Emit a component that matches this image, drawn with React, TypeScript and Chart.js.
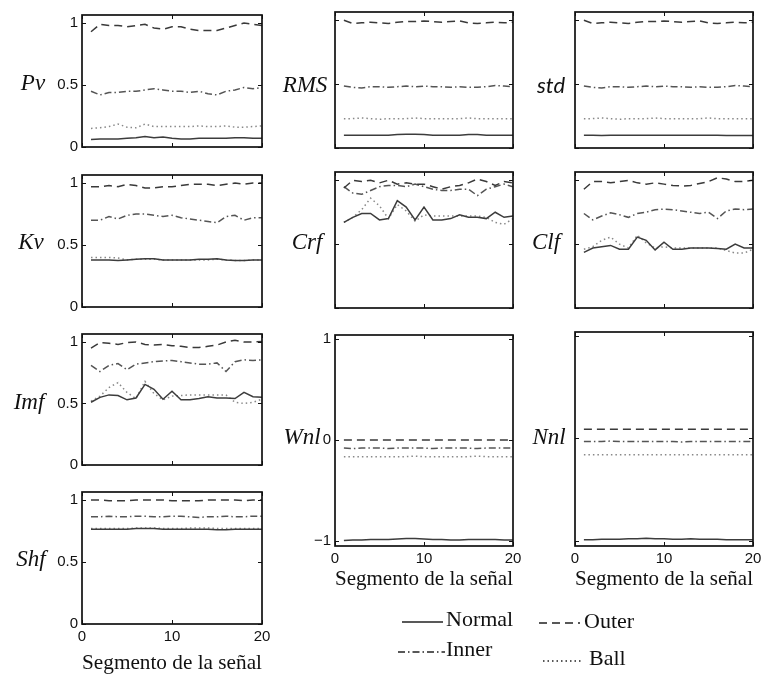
import React, { useEffect, useRef } from 'react';
import { Chart, registerables } from 'chart.js';

Chart.register(...registerables);

// ---------- data ----------
const segments = [1, 2, 3, 4, 5, 6, 7, 8, 9, 10, 11, 12, 13, 14, 15, 16, 17, 18, 19, 20];
const seriesNames = ['Normal', 'Outer', 'Inner', 'Ball'];
const xTickValues = [0, 10, 20];
const unitTickValues = [0, 0.5, 1];
const signedTickValues = [-1, 0, 1];
const xAxisTitle = 'Segmento de la señal';

const pvNormal = [0.06, 0.065, 0.065, 0.065, 0.07, 0.075, 0.085, 0.075, 0.08, 0.07, 0.065, 0.065, 0.07, 0.07, 0.07, 0.07, 0.075, 0.075, 0.07, 0.07];
const pvOuter = [0.93, 0.99, 0.98, 0.98, 0.97, 0.98, 0.99, 0.96, 0.95, 0.97, 0.97, 0.95, 0.94, 0.94, 0.94, 0.96, 0.98, 1.0, 0.99, 0.98];
const pvInner = [0.45, 0.42, 0.44, 0.44, 0.45, 0.45, 0.46, 0.47, 0.46, 0.45, 0.45, 0.44, 0.45, 0.43, 0.42, 0.45, 0.46, 0.48, 0.47, 0.48];
const pvBall = [0.15, 0.155, 0.165, 0.185, 0.16, 0.155, 0.185, 0.165, 0.165, 0.165, 0.165, 0.165, 0.17, 0.165, 0.165, 0.17, 0.16, 0.16, 0.165, 0.17];

const rmsNormal = [0.1, 0.1, 0.1, 0.1, 0.1, 0.1, 0.105, 0.107, 0.107, 0.105, 0.1, 0.1, 0.1, 0.1, 0.105, 0.105, 0.1, 0.1, 0.1, 0.1];
const rmsOuter = [1.0, 0.975, 0.98, 0.985, 0.98, 0.975, 0.985, 0.99, 0.99, 0.995, 0.99, 0.985, 0.99, 0.995, 0.98, 0.975, 0.98, 0.985, 0.98, 0.985];
const rmsInner = [0.485, 0.475, 0.47, 0.48, 0.48, 0.475, 0.48, 0.485, 0.48, 0.485, 0.48, 0.48, 0.475, 0.48, 0.475, 0.475, 0.48, 0.49, 0.485, 0.48];
const rmsBall = [0.23, 0.23, 0.235, 0.23, 0.225, 0.23, 0.23, 0.23, 0.235, 0.23, 0.23, 0.23, 0.23, 0.23, 0.235, 0.23, 0.23, 0.23, 0.23, 0.23];

const stdNormal = [0.1, 0.1, 0.098, 0.1, 0.1, 0.1, 0.1, 0.1, 0.1, 0.1, 0.1, 0.1, 0.1, 0.1, 0.1, 0.1, 0.098, 0.098, 0.098, 0.098];
const stdOuter = [1.0, 0.975, 0.98, 0.985, 0.98, 0.975, 0.985, 0.99, 0.99, 0.995, 0.99, 0.985, 0.99, 0.995, 0.98, 0.975, 0.98, 0.985, 0.98, 0.985];
const stdInner = [0.485, 0.475, 0.47, 0.48, 0.48, 0.475, 0.48, 0.485, 0.48, 0.485, 0.48, 0.48, 0.475, 0.48, 0.475, 0.475, 0.48, 0.49, 0.485, 0.48];
const stdBall = [0.23, 0.23, 0.235, 0.23, 0.225, 0.23, 0.23, 0.23, 0.235, 0.23, 0.23, 0.23, 0.23, 0.23, 0.235, 0.23, 0.23, 0.23, 0.23, 0.23];

const kvNormal = [0.38, 0.38, 0.38, 0.375, 0.38, 0.385, 0.39, 0.39, 0.38, 0.38, 0.38, 0.38, 0.385, 0.385, 0.39, 0.38, 0.375, 0.375, 0.38, 0.38];
const kvOuter = [0.97, 0.97, 0.98, 0.97, 0.99, 0.98, 0.96, 0.96, 0.97, 0.97, 0.98, 0.99, 0.99, 0.99, 0.98, 0.99, 1.0, 0.99, 1.0, 1.0];
const kvInner = [0.7, 0.7, 0.73, 0.71, 0.74, 0.75, 0.75, 0.74, 0.73, 0.74, 0.72, 0.71, 0.7, 0.69, 0.68, 0.73, 0.74, 0.7, 0.72, 0.72];
const kvBall = [0.4, 0.4, 0.4, 0.395, 0.38, 0.385, 0.385, 0.385, 0.38, 0.38, 0.38, 0.38, 0.38, 0.38, 0.385, 0.38, 0.375, 0.375, 0.38, 0.38];

const crfNormal = [0.67, 0.71, 0.74, 0.74, 0.69, 0.7, 0.84, 0.79, 0.69, 0.79, 0.69, 0.69, 0.7, 0.73, 0.71, 0.71, 0.7, 0.75, 0.71, 0.72];
const crfOuter = [0.94, 1.0, 0.99, 1.0, 0.98, 1.0, 0.97, 0.98, 0.97, 0.97, 0.95, 0.93, 0.95, 0.96, 0.98, 1.01, 0.99, 0.96, 0.99, 0.98];
const crfInner = [0.95, 0.9, 0.89, 0.92, 0.95, 0.96, 0.96, 0.95, 0.97, 0.95, 0.93, 0.92, 0.92, 0.93, 0.93, 0.88, 0.93, 0.95, 0.97, 0.95];
const crfBall = [0.67, 0.71, 0.77, 0.86, 0.8, 0.7, 0.81, 0.76, 0.68, 0.73, 0.72, 0.72, 0.72, 0.72, 0.72, 0.72, 0.71, 0.67, 0.655, 0.7];

const clfNormal = [0.435, 0.47, 0.48, 0.49, 0.46, 0.46, 0.555, 0.53, 0.455, 0.515, 0.46, 0.46, 0.47, 0.47, 0.47, 0.465, 0.46, 0.5, 0.47, 0.47];
const clfOuter = [0.93, 0.99, 0.99, 0.98, 0.99, 1.0, 0.98, 0.97, 0.98, 0.97, 0.96, 0.955, 0.96, 0.975, 0.99, 1.02, 1.01, 0.99, 0.99, 1.0];
const clfInner = [0.74, 0.69, 0.72, 0.745, 0.73, 0.71, 0.74, 0.75, 0.77, 0.775, 0.77, 0.76, 0.75, 0.74, 0.75, 0.7, 0.76, 0.775, 0.77, 0.775];
const clfBall = [0.46, 0.48, 0.53, 0.555, 0.5, 0.47, 0.57, 0.51, 0.47, 0.48, 0.47, 0.47, 0.47, 0.47, 0.47, 0.47, 0.45, 0.43, 0.43, 0.46];

const imfNormal = [0.51, 0.55, 0.57, 0.565, 0.53, 0.545, 0.655, 0.615, 0.535, 0.6, 0.53, 0.53, 0.54, 0.555, 0.545, 0.545, 0.54, 0.59, 0.555, 0.55];
const imfOuter = [0.95, 0.995, 0.99, 0.98, 0.995, 1.0, 0.98, 0.975, 0.98, 0.97, 0.965, 0.955, 0.955, 0.965, 0.975, 1.0, 1.015, 1.0, 1.0, 1.005];
const imfInner = [0.81, 0.76, 0.81, 0.825, 0.775, 0.82, 0.83, 0.84, 0.845, 0.85, 0.84, 0.83, 0.82, 0.82, 0.83, 0.76, 0.84, 0.855, 0.85, 0.855];
const imfBall = [0.52, 0.56, 0.63, 0.67, 0.59, 0.54, 0.68, 0.58, 0.53, 0.56, 0.565, 0.57, 0.57, 0.57, 0.57, 0.57, 0.51, 0.5, 0.51, 0.535];

const shfNormal = [0.765, 0.765, 0.765, 0.765, 0.765, 0.77, 0.77, 0.77, 0.765, 0.765, 0.765, 0.765, 0.765, 0.765, 0.76, 0.76, 0.765, 0.765, 0.765, 0.765];
const shfOuter = [1.0, 1.0, 0.995, 0.995, 0.995, 1.0, 1.0, 1.0, 1.0, 0.995, 0.995, 0.995, 0.995, 1.0, 1.0, 1.0, 1.0, 0.995, 1.0, 1.0];
const shfInner = [0.865, 0.865, 0.87, 0.865, 0.865, 0.87, 0.87, 0.865, 0.865, 0.87, 0.87, 0.865, 0.86, 0.865, 0.865, 0.87, 0.865, 0.865, 0.87, 0.87];
const shfBall = [0.77, 0.77, 0.77, 0.77, 0.77, 0.775, 0.775, 0.775, 0.77, 0.77, 0.77, 0.775, 0.775, 0.775, 0.77, 0.77, 0.77, 0.77, 0.77, 0.77];

const wnlNormal = [-0.995, -0.99, -0.99, -0.985, -0.985, -0.985, -0.98, -0.975, -0.975, -0.98, -0.985, -0.985, -0.99, -0.99, -0.985, -0.985, -0.985, -0.985, -0.99, -0.99];
const wnlOuter = [0.0, 0.0, 0.0, 0.0, 0.0, 0.0, 0.0, 0.0, 0.0, 0.0, 0.0, 0.0, 0.0, 0.0, 0.0, 0.0, 0.0, 0.0, 0.0, 0.0];
const wnlInner = [-0.08, -0.085, -0.08, -0.08, -0.08, -0.085, -0.08, -0.08, -0.08, -0.08, -0.085, -0.08, -0.08, -0.08, -0.08, -0.085, -0.08, -0.08, -0.08, -0.08];
const wnlBall = [-0.165, -0.165, -0.165, -0.165, -0.165, -0.165, -0.165, -0.165, -0.16, -0.165, -0.165, -0.165, -0.165, -0.165, -0.165, -0.16, -0.165, -0.165, -0.165, -0.165];

const nnlNormal = [-0.99, -0.99, -0.985, -0.985, -0.985, -0.98, -0.98, -0.975, -0.98, -0.98, -0.985, -0.985, -0.98, -0.985, -0.985, -0.985, -0.99, -0.99, -0.99, -0.99];
const nnlOuter = [0.09, 0.09, 0.09, 0.09, 0.09, 0.09, 0.09, 0.09, 0.09, 0.09, 0.09, 0.09, 0.09, 0.09, 0.09, 0.09, 0.09, 0.09, 0.09, 0.09];
const nnlInner = [-0.03, -0.03, -0.03, -0.025, -0.03, -0.03, -0.03, -0.03, -0.03, -0.03, -0.03, -0.035, -0.03, -0.03, -0.03, -0.03, -0.03, -0.03, -0.03, -0.03];
const nnlBall = [-0.16, -0.16, -0.16, -0.16, -0.16, -0.16, -0.16, -0.16, -0.16, -0.16, -0.16, -0.16, -0.16, -0.16, -0.16, -0.16, -0.16, -0.16, -0.16, -0.16];

// ---------- styles / layout ----------
const seriesStyle: Record<string, { color: string; dash: number[]; width: number }> = {
  Normal: { color: '#3c3c3c', dash: [], width: 1.5 },
  Outer: { color: '#3a3a3a', dash: [8, 5], width: 1.5 },
  Inner: { color: '#555555', dash: [7, 3, 1.5, 3], width: 1.5 },
  Ball: { color: '#888888', dash: [1.5, 3], width: 1.5 },
};

const PAD_L = 80;
const PAD_T = 10;
const PAD_R = 14;

const labelSerif = 'italic 23px "Liberation Serif", "Times New Roman", serif';
const labelSans = 'italic 22px Lato, "Open Sans", sans-serif';

type PanelCfg = {
  label: string;
  labelFont: string;
  labelX: number;
  labelY: number;
  series: number[][];
  x: number;
  y: number;
  w: number;
  h: number;
  yMin: number;
  yMax: number;
  yTicks: number[];
  showY: boolean;
  showX: boolean;
  padB: number;
};

const panels: PanelCfg[] = [
  { label: 'Pv', labelFont: labelSerif, labelX: 33, labelY: 84, series: [pvNormal, pvOuter, pvInner, pvBall], x: 82, y: 12, w: 180, h: 136, yMin: 0, yMax: 1.065, yTicks: unitTickValues, showY: true, showX: false, padB: 12 },
  { label: 'Kv', labelFont: labelSerif, labelX: 31, labelY: 243, series: [kvNormal, kvOuter, kvInner, kvBall], x: 82, y: 172, w: 180, h: 136, yMin: 0, yMax: 1.065, yTicks: unitTickValues, showY: true, showX: false, padB: 12 },
  { label: 'Imf', labelFont: labelSerif, labelX: 29, labelY: 403, series: [imfNormal, imfOuter, imfInner, imfBall], x: 82, y: 331, w: 180, h: 135, yMin: 0, yMax: 1.065, yTicks: unitTickValues, showY: true, showX: false, padB: 12 },
  { label: 'Shf', labelFont: labelSerif, labelX: 31, labelY: 560, series: [shfNormal, shfOuter, shfInner, shfBall], x: 82, y: 489, w: 180, h: 135, yMin: 0, yMax: 1.065, yTicks: unitTickValues, showY: true, showX: true, padB: 52 },
  { label: 'RMS', labelFont: labelSerif, labelX: 305, labelY: 86, series: [rmsNormal, rmsOuter, rmsInner, rmsBall], x: 335, y: 12, w: 178, h: 136, yMin: 0, yMax: 1.065, yTicks: unitTickValues, showY: false, showX: false, padB: 12 },
  { label: 'Crf', labelFont: labelSerif, labelX: 307, labelY: 243, series: [crfNormal, crfOuter, crfInner, crfBall], x: 335, y: 172, w: 178, h: 136, yMin: 0, yMax: 1.065, yTicks: unitTickValues, showY: false, showX: false, padB: 12 },
  { label: 'Wnl', labelFont: labelSerif, labelX: 302, labelY: 438, series: [wnlNormal, wnlOuter, wnlInner, wnlBall], x: 335, y: 332, w: 178, h: 214, yMin: -1.05, yMax: 1.04, yTicks: signedTickValues, showY: true, showX: true, padB: 46 },
  { label: 'std', labelFont: labelSans, labelX: 551, labelY: 86, series: [stdNormal, stdOuter, stdInner, stdBall], x: 575, y: 12, w: 178, h: 136, yMin: 0, yMax: 1.065, yTicks: unitTickValues, showY: false, showX: false, padB: 12 },
  { label: 'Clf', labelFont: labelSerif, labelX: 546, labelY: 243, series: [clfNormal, clfOuter, clfInner, clfBall], x: 575, y: 172, w: 178, h: 136, yMin: 0, yMax: 1.065, yTicks: unitTickValues, showY: false, showX: false, padB: 12 },
  { label: 'Nnl', labelFont: labelSerif, labelX: 549, labelY: 438, series: [nnlNormal, nnlOuter, nnlInner, nnlBall], x: 575, y: 332, w: 178, h: 214, yMin: -1.05, yMax: 1.04, yTicks: signedTickValues, showY: false, showX: true, padB: 46 },
];

const legendBox = { x: 380, y: 600, w: 300, h: 75 };
const legendItems = [
  { name: 'Normal', x1: 402, x2: 443, y: 622, tx: 446, ty: 620 },
  { name: 'Outer', x1: 539, x2: 580, y: 623, tx: 584, ty: 622 },
  { name: 'Inner', x1: 398, x2: 445, y: 652, tx: 446, ty: 650 },
  { name: 'Ball', x1: 543, x2: 583, y: 661, tx: 589, ty: 659 },
];

const tickFont = { family: '"Liberation Sans", Arial, sans-serif', size: 15 };
const titleFont = { family: '"Liberation Serif", "Times New Roman", serif', size: 22 };

const fmtTick = (v: number | string) => {
  const n = Number(v);
  if (n < 0) return '\u2212' + Math.abs(n);
  return String(n);
};

const framePlugin = {
  id: 'frame',
  afterDraw(chart: any, _args: any, opts: any) {
    const { ctx, chartArea: a, scales } = chart;
    ctx.save();
    ctx.setLineDash([]);
    ctx.strokeStyle = '#111';
    ctx.lineWidth = 1;
    const tl = 4;
    ctx.beginPath();
    for (const v of opts.yTicks) {
      const py = Math.round(scales.y.getPixelForValue(v)) + 0.5;
      ctx.moveTo(a.left, py);
      ctx.lineTo(a.left + tl, py);
      ctx.moveTo(a.right, py);
      ctx.lineTo(a.right - tl, py);
    }
    for (const v of xTickValues) {
      const px = Math.round(scales.x.getPixelForValue(v)) + 0.5;
      ctx.moveTo(px, a.bottom);
      ctx.lineTo(px, a.bottom - tl);
      ctx.moveTo(px, a.top);
      ctx.lineTo(px, a.top + tl);
    }
    ctx.stroke();
    ctx.lineWidth = 1.7;
    ctx.strokeRect(a.left, a.top, a.right - a.left, a.bottom - a.top);
    ctx.font = opts.font;
    ctx.fillStyle = '#111';
    ctx.textAlign = 'center';
    ctx.textBaseline = 'middle';
    ctx.fillText(opts.label, opts.labelX, opts.labelY);
    ctx.restore();
  },
};

const legendPlugin = {
  id: 'sampleLegend',
  afterDraw(chart: any, _args: any, opts: any) {
    const { ctx } = chart;
    ctx.save();
    for (const it of opts.items) {
      const ds = chart.data.datasets.find((d: any) => d.label === it.name);
      ctx.strokeStyle = '#222';
      ctx.lineWidth = 1.5;
      ctx.setLineDash(ds.borderDash || []);
      ctx.beginPath();
      ctx.moveTo(it.x1 - opts.ox, it.y - opts.oy);
      ctx.lineTo(it.x2 - opts.ox, it.y - opts.oy);
      ctx.stroke();
      ctx.setLineDash([]);
      ctx.font = '22px "Liberation Serif", "Times New Roman", serif';
      ctx.fillStyle = '#111';
      ctx.textAlign = 'left';
      ctx.textBaseline = 'middle';
      ctx.fillText(ds.label, it.tx - opts.ox, it.ty - opts.oy);
    }
    ctx.restore();
  },
};

function Panel({ cfg }: { cfg: PanelCfg }) {
  const ref = useRef<HTMLCanvasElement>(null);
  const W = cfg.w + PAD_L + PAD_R;
  const H = cfg.h + PAD_T + cfg.padB;
  const left = cfg.x - PAD_L;
  const top = cfg.y - PAD_T;
  useEffect(() => {
    if (!ref.current) return;
    const chart = new Chart(ref.current, {
      type: 'line',
      data: {
        datasets: seriesNames.map((name, si) => ({
          label: name,
          data: cfg.series[si].map((v, i) => ({ x: segments[i], y: v })),
          borderColor: seriesStyle[name].color,
          borderDash: seriesStyle[name].dash,
          borderWidth: seriesStyle[name].width,
          pointRadius: 0,
          fill: false,
          tension: 0,
        })),
      },
      options: {
        animation: false,
        responsive: false,
        devicePixelRatio: 1,
        events: [],
        layout: { padding: { left: 0, top: PAD_T, right: PAD_R, bottom: 0 } },
        plugins: {
          legend: { display: false },
          tooltip: { enabled: false },
          frame: {
            label: cfg.label,
            font: cfg.labelFont,
            labelX: cfg.labelX - left,
            labelY: cfg.labelY - top,
            yTicks: cfg.yTicks,
          },
        } as any,
        scales: {
          x: {
            type: 'linear',
            min: 0,
            max: 20,
            grid: { display: false, drawTicks: false },
            border: { display: false },
            ticks: {
              display: cfg.showX,
              stepSize: 10,
              includeBounds: false,
              maxRotation: 0,
              padding: 4,
              color: '#111',
              font: tickFont,
              callback: fmtTick,
            },
            title: {
              display: cfg.showX,
              text: xAxisTitle,
              color: '#111',
              font: titleFont,
              padding: { top: 0, bottom: 0 },
            },
            afterFit: (s: any) => {
              s.height = cfg.padB;
            },
          },
          y: {
            type: 'linear',
            min: cfg.yMin,
            max: cfg.yMax,
            grid: { display: false, drawTicks: false },
            border: { display: false },
            afterBuildTicks: (s: any) => {
              s.ticks = cfg.yTicks.map((v) => ({ value: v }));
            },
            ticks: {
              display: cfg.showY,
              includeBounds: false,
              padding: 4,
              color: '#111',
              font: tickFont,
              callback: fmtTick,
            },
            afterFit: (s: any) => {
              s.width = PAD_L;
            },
          },
        },
      } as any,
      plugins: [framePlugin],
    });
    return () => chart.destroy();
  }, []);
  return (
    <canvas
      ref={ref}
      width={W}
      height={H}
      style={{ position: 'absolute', left, top, width: W, height: H }}
    />
  );
}

function LegendCanvas() {
  const ref = useRef<HTMLCanvasElement>(null);
  useEffect(() => {
    if (!ref.current) return;
    const chart = new Chart(ref.current, {
      type: 'line',
      data: {
        datasets: seriesNames.map((name) => ({
          label: name,
          data: [],
          borderColor: seriesStyle[name].color,
          borderDash: seriesStyle[name].dash,
          borderWidth: seriesStyle[name].width,
        })),
      },
      options: {
        animation: false,
        responsive: false,
        devicePixelRatio: 1,
        events: [],
        plugins: {
          legend: { display: false },
          tooltip: { enabled: false },
          sampleLegend: { items: legendItems, ox: legendBox.x, oy: legendBox.y },
        } as any,
        scales: { x: { display: false }, y: { display: false } },
      } as any,
      plugins: [legendPlugin],
    });
    return () => chart.destroy();
  }, []);
  return (
    <canvas
      ref={ref}
      width={legendBox.w}
      height={legendBox.h}
      style={{ position: 'absolute', left: legendBox.x, top: legendBox.y, width: legendBox.w, height: legendBox.h }}
    />
  );
}

export default function App() {
  return (
    <div
      style={{
        position: 'fixed',
        left: 0,
        top: 0,
        width: 762,
        height: 675,
        background: '#ffffff',
        overflow: 'hidden',
      }}
    >
      {panels.map((p) => (
        <Panel key={p.label} cfg={p} />
      ))}
      <LegendCanvas />
    </div>
  );
}
